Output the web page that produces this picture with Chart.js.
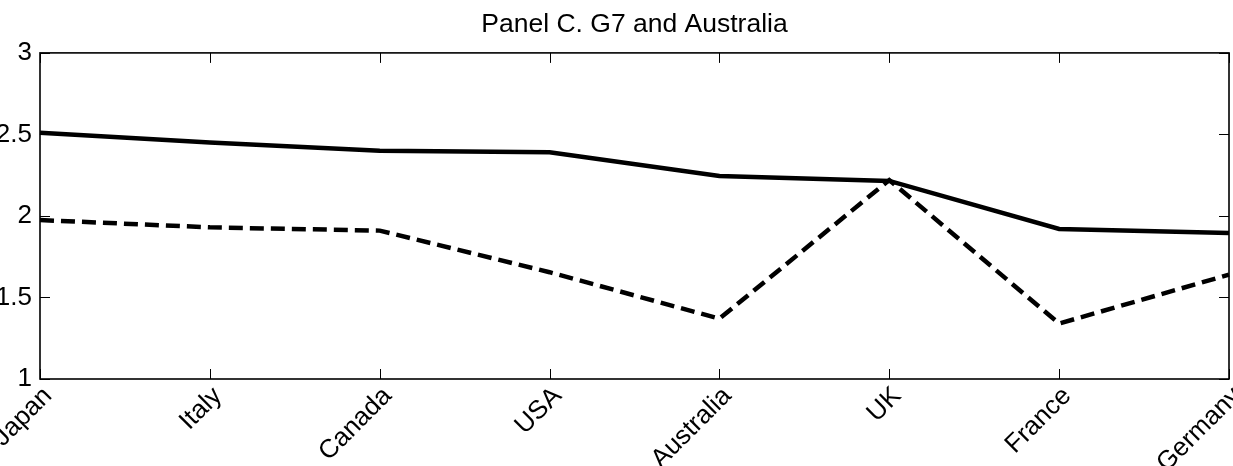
<!DOCTYPE html>
<html>
<head>
<meta charset="utf-8">
<script src="https://cdn.jsdelivr.net/npm/chart.js@4"></script>
<style>
  html, body { margin: 0; padding: 0; background: #fff; }
  #wrap { width: 1233px; height: 466px; position: relative; }
</style>
</head>
<body>
<div id="wrap"><canvas id="chart"></canvas></div>
<script>
// Countries along the x axis
const countries = ['Japan', 'Italy', 'Canada', 'USA', 'Australia', 'UK', 'France', 'Germany'];
// Solid line
const solidSeries = [2.51, 2.45, 2.40, 2.39, 2.245, 2.215, 1.92, 1.895];
// Dashed line
const dashedSeries = [1.975, 1.93, 1.91, 1.655, 1.37, 2.22, 1.34, 1.64];
// Y axis ticks
const yTicks = [1, 1.5, 2, 2.5, 3];

Chart.defaults.color = '#000';
Chart.defaults.font.family = '"Liberation Sans", Arial, sans-serif';

// MATLAB-like box with inward tick marks
const boxTicks = {
    id: 'boxTicks',
    afterDraw(chart) {
        const ctx = chart.ctx;
        const a = chart.chartArea;
        const xs = chart.scales.x, ys = chart.scales.y;
        const len = 10;
        ctx.save();
        ctx.strokeStyle = '#000';
        ctx.lineWidth = 1;
        xs.ticks.forEach((t, i) => {
            const px = Math.round(xs.getPixelForTick(i)) + 0.5;
            ctx.beginPath();
            ctx.moveTo(px, a.bottom); ctx.lineTo(px, a.bottom - len);
            ctx.moveTo(px, a.top); ctx.lineTo(px, a.top + len);
            ctx.stroke();
        });
        ys.ticks.forEach((t, i) => {
            const py = Math.round(ys.getPixelForTick(i)) + 0.5;
            ctx.beginPath();
            ctx.moveTo(a.left, py); ctx.lineTo(a.left + len, py);
            ctx.moveTo(a.right, py); ctx.lineTo(a.right - len, py);
            ctx.stroke();
        });
        ctx.lineWidth = 1.6;
        ctx.strokeRect(a.left, a.top, a.right - a.left, a.bottom - a.top);
        ctx.restore();
    }
};

new Chart(document.getElementById('chart'), {
    type: 'line',
    data: {
        labels: countries,
        datasets: [{
            data: solidSeries,
            borderColor: '#000',
            borderWidth: 4.5,
            pointRadius: 0,
            tension: 0,
            fill: false
        }, {
            data: dashedSeries,
            borderColor: '#000',
            borderWidth: 4.5,
            borderDash: [14, 7],
            pointRadius: 0,
            tension: 0,
            fill: false
        }]
    },
    options: {
        responsive: true,
        maintainAspectRatio: false,
        animation: false,
        layout: { padding: { left: 0, right: 4, top: 0, bottom: 0 } },
        plugins: {
            legend: { display: false },
            tooltip: { enabled: false },
            title: {
                display: true,
                fullSize: false,   // centre over the plot area, not the canvas
                text: 'Panel C. G7 and Australia',
                font: { size: 26.5, weight: 'normal' },
                padding: { top: 9, bottom: 12.1 }
            }
        },
        scales: {
            x: {
                offset: false,
                grid: { display: false, drawTicks: false },
                border: { display: false },
                ticks: {
                    font: { size: 26 },
                    minRotation: 45,
                    maxRotation: 45,
                    autoSkip: false,
                    padding: 2,
                    labelOffset: 8
                },
                afterFit(scale) {
                    scale.height = 87;
                    scale.paddingLeft = 0;
                    scale.paddingRight = 0;
                }
            },
            y: {
                min: 1,
                max: 3,
                grid: { display: false, drawTicks: false },
                border: { display: false },
                afterBuildTicks(scale) {
                    scale.ticks = yTicks.map(v => ({ value: v }));
                },
                ticks: {
                    font: { size: 26 },
                    padding: 8,
                    callback: v => String(v)
                },
                afterFit(scale) {
                    scale.width = 40;
                    scale.paddingTop = 0;
                    scale.paddingBottom = 0;
                }
            }
        }
    },
    plugins: [boxTicks]
});
</script>
</body>
</html>
